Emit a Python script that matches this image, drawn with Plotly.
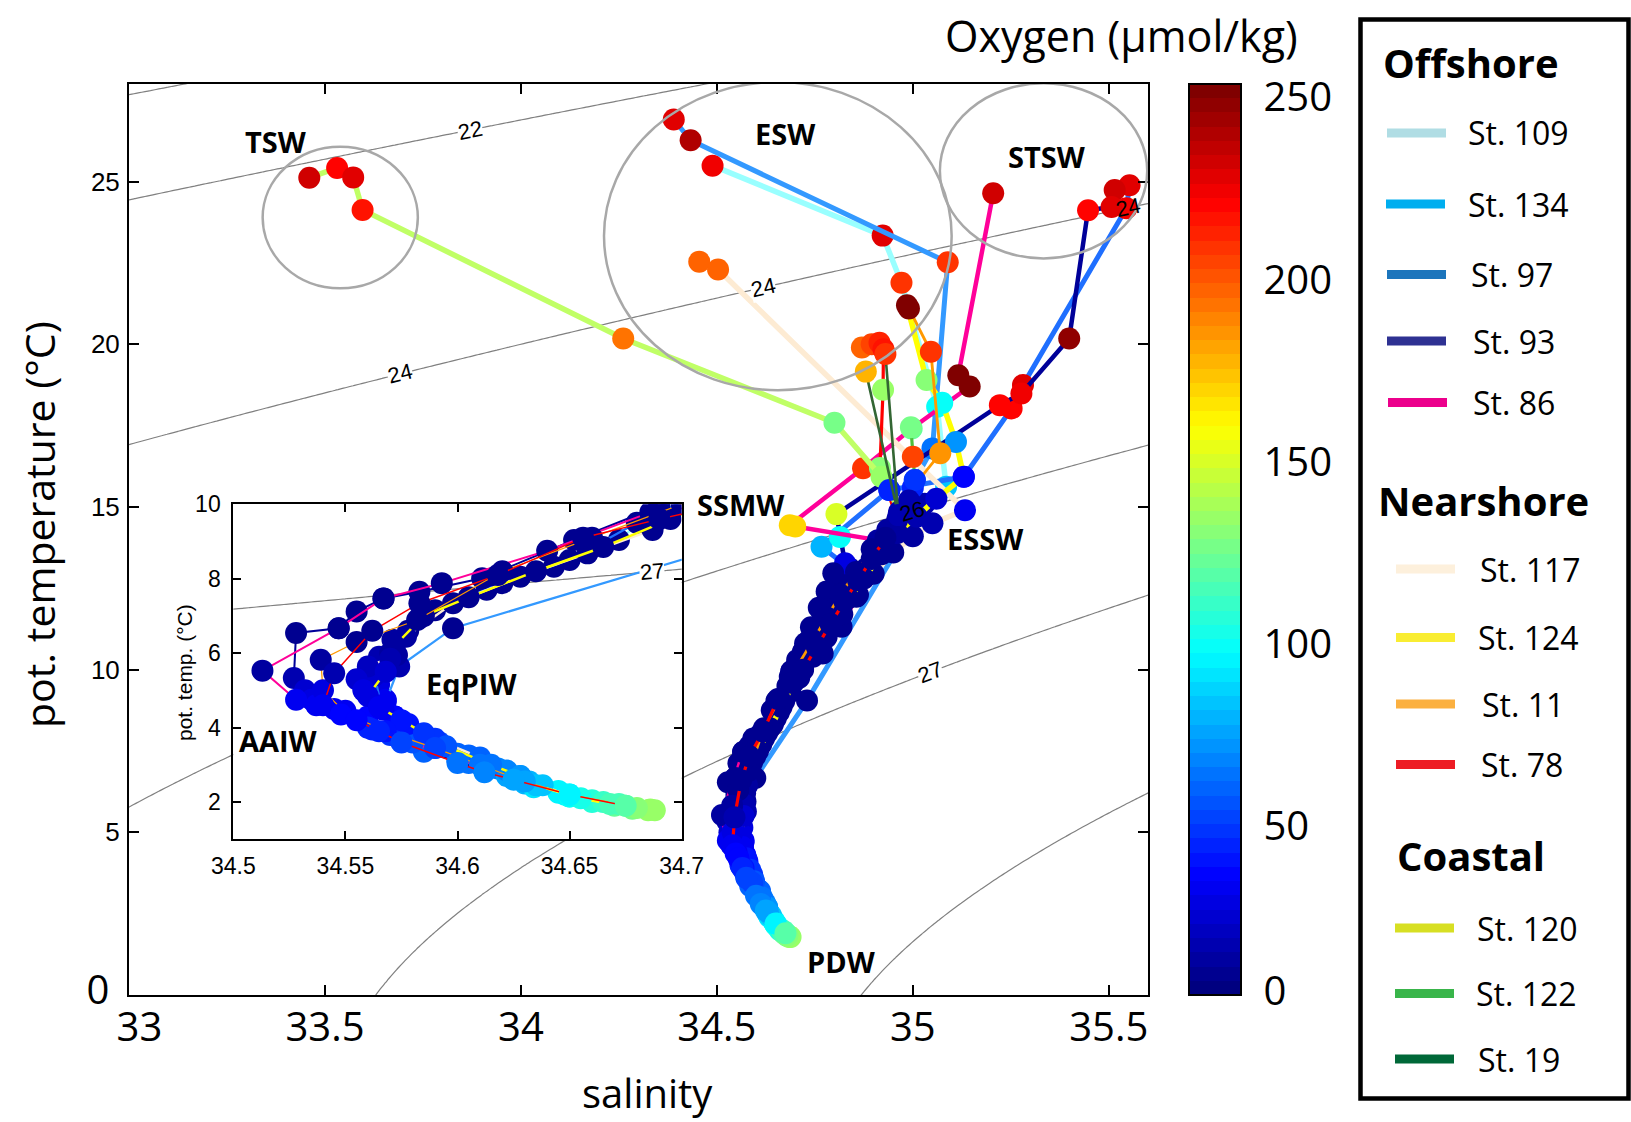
import math
import numpy as np
import plotly.graph_objects as go

# ------------------------------------------------------------------ data
STATIONS = ["St. 109", "St. 134", "St. 97", "St. 93", "St. 86",
            "St. 117", "St. 124", "St. 11", "St. 78",
            "St. 120", "St. 122", "St. 19"]
GROUPS = ["Offshore", "Nearshore", "Coastal"]

sal_109 = [34.489, 34.923, 34.971, 35.062, 35.085, 35.02, 34.985, 34.95, 34.905, 34.865, 34.83, 34.79, 34.755, 34.72,
           34.69, 34.672, 34.643, 34.613, 34.583, 34.571, 34.565, 34.562, 34.565, 34.568, 34.572, 34.578, 34.592,
           34.605, 34.618, 34.632, 34.645, 34.66, 34.685]
temp_109 = [25.49, 23.34, 21.89, 18.08, 15.62, 14.95, 14.45, 14.0, 13.45, 12.9, 12.4, 11.8, 11.2, 10.55,
            9.95, 9.04, 8.32, 7.70, 6.94, 6.36, 5.9, 5.55, 5.15, 4.75, 4.3, 3.95, 3.6,
            3.25, 2.9, 2.55, 2.25, 2.0, 1.78]
oxy_109 = [220, 225, 205, 95, 80, 20, 12, 8, 6, 5, 4, 4, 4, 5,
           5, 5, 5, 6, 7, 9, 13, 18, 24, 28, 34, 40, 48,
           57, 66, 78, 92, 105, 130]

sal_134 = [34.390, 34.433, 35.089, 35.05, 35.005, 35.03,
           34.73, 34.598, 34.574, 34.568, 34.572, 34.578, 34.6, 34.628, 34.648, 34.67]
temp_134 = [26.91, 26.27, 22.52, 16.8, 15.83, 15.1,
            9.05, 6.67, 5.64, 4.7, 4.3, 3.95, 3.3, 2.7, 2.2, 1.9]
oxy_134 = [225, 235, 205, 60, 45, 12,
           5, 6, 12, 28, 33, 40, 55, 70, 90, 118]

sal_97 = [35.553, 35.545, 35.281, 35.252, 35.13, 34.94, 34.767, 34.84, 34.82, 34.80, 34.785, 34.77, 34.75, 34.735,
          34.72, 34.705, 34.68, 34.65, 34.62, 34.59, 34.578, 34.57, 34.563, 34.566, 34.56, 34.572, 34.58, 34.59,
          34.605, 34.63, 34.65, 34.678]
temp_97 = [24.89, 24.18, 18.75, 18.03, 15.93, 15.52, 13.78, 13.1, 12.7, 12.3, 11.95, 11.6, 11.2, 10.9,
           10.55, 10.2, 9.5, 8.5, 7.88, 7.15, 6.6, 6.0, 5.4, 4.6, 4.3, 3.85, 3.7, 3.45,
           3.05, 2.5, 2.15, 1.82]
oxy_97 = [225, 222, 225, 215, 35, 40, 75, 10, 6, 5, 4, 4, 4, 4,
          4, 4, 5, 5, 6, 6, 7, 10, 20, 28, 32, 40, 44, 52,
          60, 78, 98, 124]

sal_93 = [35.515, 35.507, 35.447, 35.399, 35.277, 35.222, 34.805, 34.814, 34.827, 34.797, 34.78, 34.76, 34.74, 34.725,
          34.705, 34.69, 34.652, 34.611, 34.583, 34.567, 34.555, 34.547, 34.528, 34.527, 34.532, 34.535, 34.55,
          34.562, 34.575, 34.585, 34.6, 34.612, 34.634, 34.66, 34.686]
temp_93 = [24.74, 24.22, 24.12, 20.18, 18.49, 18.13, 14.78, 14.08, 13.27, 12.96, 12.4, 11.9, 11.3, 10.8,
           10.3, 9.95, 9.04, 8.01, 7.65, 7.47, 7.12, 6.67, 6.54, 5.33, 5.0, 4.75, 4.45,
           3.95, 3.65, 3.35, 3.1, 2.85, 2.4, 2.05, 1.8]
oxy_93 = [228, 226, 215, 245, 220, 218, 145, 95, 25, 6, 5, 4, 4, 4,
          4, 4, 4, 5, 5, 5, 5, 5, 5, 14, 22, 27, 30,
          40, 47, 55, 62, 68, 86, 104, 130]

sal_86 = [35.205, 35.116, 35.145, 34.997, 34.873, 34.686, 34.70, 34.911, 34.88, 34.856, 34.818, 34.77, 34.72,
          34.686, 34.64, 34.593, 34.567, 34.547, 34.513, 34.528, 34.537, 34.545, 34.56, 34.57, 34.58, 34.6,
          34.622, 34.645, 34.665, 34.688]
temp_86 = [24.64, 19.05, 18.7, 17.41, 16.19, 14.44, 14.40, 13.98, 13.1, 12.24, 11.32, 10.5, 10.05,
           9.78, 8.75, 7.88, 7.47, 6.67, 5.53, 4.75, 4.6, 4.5, 4.0, 3.8, 3.6, 3.15,
           2.7, 2.3, 2.0, 1.78]
oxy_86 = [230, 250, 250, 120, 205, 165, 165, 10, 5, 4, 4, 4, 4,
          4, 5, 5, 5, 5, 8, 28, 29, 30, 42, 46, 52, 60,
          72, 90, 108, 132]

sal_117 = [34.455, 34.503, 35.133, 35.05, 35.0, 34.95, 34.90, 34.86, 34.82, 34.78, 34.745,
           34.71, 34.687, 34.658, 34.628, 34.598, 34.577, 34.573, 34.56, 34.555, 34.558, 34.567, 34.578,
           34.59, 34.61, 34.622, 34.638, 34.65, 34.675]
temp_117 = [22.54, 22.3, 14.9, 14.5, 14.1, 13.6, 12.95, 12.3, 11.7, 11.0, 10.4,
            9.75, 9.31, 8.68, 8.05, 7.34, 6.44, 5.95, 5.64, 5.3, 5.0, 4.48, 4.1,
            3.7, 3.2, 2.85, 2.45, 2.15, 1.9]
oxy_117 = [195, 195, 30, 12, 8, 6, 5, 4, 4, 4, 4,
           5, 5, 5, 5, 6, 8, 11, 18, 22, 26, 30, 38,
           44, 57, 66, 80, 95, 120]

sal_124 = [34.985, 35.035, 35.075, 35.11, 35.13, 35.06, 35.01, 34.96, 34.92, 34.875, 34.835, 34.80, 34.76, 34.725,
           34.695, 34.665, 34.635, 34.605, 34.585, 34.572, 34.57, 34.568, 34.56, 34.565, 34.575, 34.585, 34.595,
           34.615, 34.628, 34.635, 34.655, 34.668, 34.68]
temp_124 = [21.2, 18.9, 18.2, 17.0, 15.93, 15.25, 14.7, 14.2, 13.55, 12.8, 12.2, 11.6, 10.9, 10.3,
            9.6, 8.85, 8.2, 7.5, 7.0, 6.2, 5.85, 5.5, 4.85, 4.55, 4.2, 3.85, 3.5,
            3.0, 2.7, 2.45, 2.1, 1.95, 1.84]
oxy_124 = [250, 125, 95, 70, 35, 20, 12, 8, 6, 5, 4, 4, 4, 4,
           5, 5, 5, 5, 7, 10, 14, 20, 27, 30, 36, 44, 52,
           62, 70, 82, 100, 112, 125]

sal_11 = [34.99, 35.046, 35.07, 35.0, 34.975, 34.935, 34.895, 34.855, 34.815, 34.78, 34.745,
          34.70, 34.66, 34.62, 34.582, 34.555, 34.539, 34.54, 34.55, 34.568, 34.59, 34.61, 34.63, 34.65, 34.672]
temp_11 = [21.1, 19.77, 16.65, 15.6, 14.9, 14.3, 13.7, 13.0, 12.3, 11.6, 10.9,
           10.0, 9.1, 8.2, 6.89, 6.3, 5.82, 5.0, 4.4, 3.9, 3.45, 3.0, 2.55, 2.2, 1.95]
oxy_11 = [248, 205, 180, 40, 15, 8, 6, 5, 4, 4, 4,
          4, 5, 5, 6, 7, 9, 25, 30, 38, 50, 60, 72, 90, 112]

sal_78 = [34.87, 34.895, 34.915, 34.925, 34.924, 34.916, 34.96, 34.93, 34.895, 34.86, 34.825, 34.79, 34.755,
          34.72, 34.69, 34.656, 34.618, 34.583, 34.562, 34.545, 34.54, 34.548, 34.555, 34.565, 34.575, 34.6,
          34.612, 34.625, 34.65, 34.675]
temp_78 = [19.9, 20.0, 20.05, 19.85, 18.6, 16.2, 14.6, 14.05, 13.4, 12.75, 12.1, 11.4, 10.7,
           10.0, 9.6, 9.1, 8.1, 7.34, 6.6, 5.46, 4.6, 4.35, 4.2, 3.9, 3.6, 3.05,
           2.8, 2.6, 2.2, 1.9]
oxy_78 = [195, 200, 210, 212, 130, 125, 10, 7, 5, 4, 4, 4, 4,
          4, 5, 5, 5, 5, 7, 14, 28, 32, 35, 42, 48, 60,
          66, 74, 92, 115]

sal_120 = [33.46, 33.531, 33.572, 33.596, 34.261, 34.80, 34.92, 34.94, 34.965]
temp_120 = [25.12, 25.42, 25.13, 24.13, 20.18, 17.59, 15.93, 15.52, 14.85]
oxy_120 = [228, 218, 226, 213, 190, 122, 130, 40, 15]

sal_122 = [34.995, 35.0, 35.005, 34.99]
temp_122 = [17.45, 16.54, 15.83, 15.2]
oxy_122 = [122, 200, 45, 15]

sal_19 = [34.93, 34.963, 34.88]
temp_19 = [19.7, 14.75, 19.16]
oxy_19 = [205, 12, 175]

OXY_TICKS = [0, 50, 100, 150, 200, 250]
OXY_TICKTEXT = ["0", "50", "100", "150", "200", "250"]
SAL_TICKS = [33, 33.5, 34, 34.5, 35, 35.5]
SAL_TICKTEXT = ["&nbsp;&nbsp;33", "33.5", "34", "34.5", "35", "35.5"]
TEMP_TICKS = [0, 5, 10, 15, 20, 25]
INSET_SAL_TICKS = [34.5, 34.55, 34.6, 34.65, 34.7]
INSET_SAL_TICKTEXT = ["34.5", "34.55", "34.6", "34.65", "34.7"]
INSET_TEMP_TICKS = [2, 4, 6, 8, 10]

SIGMA_LEVELS = [21, 22, 24, 26, 27, 28]
SIGMA_LABEL_LEVELS = [22, 24, 24, 24, 26, 27]
SIGMA_LABEL_SAL = [33.87, 33.691, 34.618, 35.549, 34.997, 35.043]
INSET_LABEL_LEVEL = 27
INSET_LABEL_SAL = 34.6868

circle_sal_min = [33.341, 34.212, 35.069]
circle_sal_max = [33.737, 35.099, 35.598]
circle_temp_min = [21.72, 18.59, 22.64]
circle_temp_max = [26.07, 28.06, 28.02]

WATER_MASSES = ["TSW", "ESW", "STSW", "SSMW", "ESSW", "PDW", "EqPIW", "AAIW"]

SAL = [sal_109, sal_134, sal_97, sal_93, sal_86, sal_117, sal_124, sal_11, sal_78, sal_120, sal_122, sal_19]
TEMP = [temp_109, temp_134, temp_97, temp_93, temp_86, temp_117, temp_124, temp_11, temp_78, temp_120, temp_122, temp_19]
OXY = [oxy_109, oxy_134, oxy_97, oxy_93, oxy_86, oxy_117, oxy_124, oxy_11, oxy_78, oxy_120, oxy_122, oxy_19]

# ------------------------------------------------------------------ styles
LINE_COLORS = ["#99FFFF", "#3399FF", "#1F6FFF", "#000099", "#FF0099",
               "#FDEBD3", "#FFFF00", "#FF9900", "#FF0000",
               "#C0FF66", "#4DBF3C", "#336633"]
LINE_WIDTHS = [5.5, 5, 5, 4.5, 4.5, 5.5, 5.5, 2.8, 3.2, 5.5, 3.2, 2.6]
LEGEND_COLORS = ["#B0DDE4", "#00AEEF", "#1C75BC", "#2E3192", "#EC008C",
                 "#FDF0DC", "#F9ED32", "#FBB040", "#ED1C24",
                 "#D7DF23", "#39B54A", "#006838"]
MARKER_SIZE = 22

W, H = 1631, 1122
L, R, TOP, BOT = 129, 1148, 84, 995
SMIN, SMAX, TMIN, TMAX = 33.0, 35.6, 0.0, 28.0
IS0, IS1, IT0, IT1 = 34.5, 34.7, 1.0, 10.0
INSET_PX = (233.3, 681.7, 504.2, 839.3)
CB_X0, CB_X1 = 1189, 1241
CB_LABEL_SHIFT = [1.2, -3.7, -3.7, -3.7, -3.7, -3.7]   # label offsets (oxygen units), as in the figure


def px(x):
    return (x - L) / (R - L)


def py(y):
    return (BOT - y) / (BOT - TOP)


def jet(v):
    r = min(max(1.5 - abs(4 * v - 3), 0), 1)
    g = min(max(1.5 - abs(4 * v - 2), 0), 1)
    b = min(max(1.5 - abs(4 * v - 1), 0), 1)
    return "rgb(%d,%d,%d)" % (round(r * 255), round(g * 255), round(b * 255))


N = 64
JET = []
for i in range(N):
    c = jet(i / (N - 1))
    JET.append([i / N, c])
    JET.append([(i + 1) / N, c])


def sigma0(S, T):
    rw = (999.842594 + 6.793952e-2 * T - 9.095290e-3 * T ** 2 + 1.001685e-4 * T ** 3
          - 1.120083e-6 * T ** 4 + 6.536332e-9 * T ** 5)
    A = 8.24493e-1 - 4.0899e-3 * T + 7.6438e-5 * T ** 2 - 8.2467e-7 * T ** 3 + 5.3875e-9 * T ** 4
    Bc = -5.72466e-3 + 1.0227e-4 * T - 1.6546e-6 * T ** 2
    return rw + A * S + Bc * S ** 1.5 + 4.8314e-4 * S ** 2 - 1000.0


def solve_T(S, level):
    lo, hi = -2.0, 40.0
    for _ in range(60):
        mid = 0.5 * (lo + hi)
        if sigma0(S, mid) > level:
            lo = mid
        else:
            hi = mid
    return 0.5 * (lo + hi)


def label_angle(S, T, pps, ppt):
    e = 1e-4
    dsds = (sigma0(S + e, T) - sigma0(S - e, T)) / (2 * e)
    dsdt = (sigma0(S, T + e) - sigma0(S, T - e)) / (2 * e)
    dtds = -dsds / dsdt
    return math.degrees(math.atan2(-dtds * ppt, pps))


fig = go.Figure()

# ---- isopycnals (main)
gS = np.linspace(32.9, 35.7, 200)
gT = np.linspace(-1.0, 29.0, 220)
Z = sigma0(gS[None, :], gT[:, None])
for lv in SIGMA_LEVELS:
    fig.add_trace(go.Contour(x=gS, y=gT, z=Z, autocontour=False,
                             contours=dict(start=lv, end=lv, size=1, coloring="none"),
                             line=dict(color="#808080", width=1.2), showscale=False,
                             hoverinfo="skip", xaxis="x", yaxis="y"))
# ---- isopycnal in inset
iS = np.linspace(34.48, 34.72, 80)
iT = np.linspace(0.5, 10.5, 80)
iZ = sigma0(iS[None, :], iT[:, None])
fig.add_trace(go.Contour(x=iS, y=iT, z=iZ, autocontour=False,
                         contours=dict(start=INSET_LABEL_LEVEL, end=INSET_LABEL_LEVEL, size=1, coloring="none"),
                         line=dict(color="#808080", width=1.2), showscale=False,
                         hoverinfo="skip", xaxis="x2", yaxis="y2"))

# ---- stations
for k, name in enumerate(STATIONS):
    for ax, lw_scale in (("", 1.0), ("2", 0.45)):
        fig.add_trace(go.Scatter(x=SAL[k], y=TEMP[k], mode="lines", name=name,
                                 line=dict(color=LINE_COLORS[k], width=LINE_WIDTHS[k] * lw_scale),
                                 hoverinfo="skip", showlegend=False,
                                 xaxis="x" + ax, yaxis="y" + ax))
        mk = dict(size=MARKER_SIZE, color=OXY[k], colorscale=JET, cmin=0, cmax=250,
                  line=dict(width=0), showscale=False)
        if k == 0 and ax == "":
            mk["showscale"] = True
            mk["colorbar"] = dict(
                x=px(CB_X0), xanchor="left", xref="paper", xpad=0,
                y=0, yanchor="bottom", len=1, lenmode="fraction", ypad=0,
                thickness=CB_X1 - CB_X0, thicknessmode="pixels",
                outlinewidth=2, outlinecolor="black",
                tickvals=[v + d for v, d in zip(OXY_TICKS, CB_LABEL_SHIFT)], ticktext=OXY_TICKTEXT,
                ticks="outside", ticklen=14, tickcolor="rgba(255,255,255,0)",
                tickfont=dict(family="Open Sans", size=40, color="black"))
        fig.add_trace(go.Scatter(x=SAL[k], y=TEMP[k], mode="markers", name=name,
                                 marker=mk, showlegend=False,
                                 xaxis="x" + ax, yaxis="y" + ax))

# ---- layout
ann = []
shapes = []

pps = (R - L) / (SMAX - SMIN)
ppt = (BOT - TOP) / (TMAX - TMIN)
for lv, s in zip(SIGMA_LABEL_LEVELS, SIGMA_LABEL_SAL):
    t = solve_T(s, lv)
    bg = "rgba(0,0,0,0)" if (lv == 26 or s > 35.5) else "white"
    ann.append(dict(x=s, y=t, xref="x", yref="y", text=str(lv), showarrow=False,
                    xanchor="center", yanchor="middle",
                    textangle=label_angle(s, t, pps, ppt), bgcolor=bg, borderpad=0,
                    font=dict(family="Liberation Sans", size=22, color="black")))
ipps = (INSET_PX[1] - INSET_PX[0]) / (IS1 - IS0)
ippt = (INSET_PX[3] - INSET_PX[2]) / (IT1 - IT0)
t_in = solve_T(INSET_LABEL_SAL, INSET_LABEL_LEVEL)
ann.append(dict(x=INSET_LABEL_SAL, y=t_in, xref="x2", yref="y2", text=str(INSET_LABEL_LEVEL),
                showarrow=False, xanchor="center", yanchor="middle",
                textangle=label_angle(INSET_LABEL_SAL, t_in, ipps, ippt),
                bgcolor="white", borderpad=0,
                font=dict(family="Liberation Sans", size=22, color="black")))

for s0, s1, t0, t1 in zip(circle_sal_min, circle_sal_max, circle_temp_min, circle_temp_max):
    shapes.append(dict(type="circle", xref="x", yref="y", x0=s0, x1=s1, y0=t0, y1=t1,
                       line=dict(color="#A8A8A8", width=2.5), layer="above"))

WM_PX = [(275.7, 141.7), (785.7, 133.3), (1046.7, 156.7), (740.7, 504.3),
         (985.7, 538.3), (841.5, 961), (471.7, 683.3), (278.3, 740)]
for nm, (xp, yp) in zip(WATER_MASSES, WM_PX):
    ann.append(dict(x=px(xp), y=py(yp), xref="paper", yref="paper", text="<b>%s</b>" % nm,
                    showarrow=False, xanchor="center", yanchor="middle",
                    font=dict(family="Open Sans", size=29, color="black")))

# axis titles
ann.append(dict(x=px(647), y=py(1092), xref="paper", yref="paper", text="salinity", showarrow=False,
                xanchor="center", yanchor="middle",
                font=dict(family="Open Sans", size=40, color="black")))
ann.append(dict(x=px(39), y=py(525), xref="paper", yref="paper", text="pot. temperature (°C)",
                showarrow=False, textangle=-90, xanchor="center", yanchor="middle",
                font=dict(family="Open Sans", size=41, color="black")))
ann.append(dict(x=px(1121), y=py(35), xref="paper", yref="paper", text="Oxygen (µmol/kg)",
                showarrow=False, xanchor="center", yanchor="middle",
                font=dict(family="Open Sans", size=43, color="black")))
ann.append(dict(x=px(185), y=py(673), xref="paper", yref="paper", text="pot. temp. (°C)",
                showarrow=False, textangle=-90, xanchor="center", yanchor="middle",
                font=dict(family="Liberation Sans", size=21, color="black")))

# colorbar inside tick marks (both edges)
for v in OXY_TICKS[1:-1]:
    yy = py(BOT - v / 250.0 * (BOT - TOP))
    shapes.append(dict(type="line", xref="paper", yref="paper", x0=px(CB_X0), x1=px(CB_X0 + 8),
                       y0=yy, y1=yy, line=dict(color="black", width=1.5)))
    shapes.append(dict(type="line", xref="paper", yref="paper", x0=px(CB_X1 - 8), x1=px(CB_X1),
                       y0=yy, y1=yy, line=dict(color="black", width=1.5)))

# legend (manual, grouped)
shapes.append(dict(type="rect", xref="paper", yref="paper", x0=px(1360.5), x1=px(1628.5),
                   y0=py(19.5), y1=py(1098.5), line=dict(color="black", width=4.5)))
HEAD_PX = [(1381, 62), (1376, 500), (1395, 855)]
for g, (xp, yp) in zip(GROUPS, HEAD_PX):
    ann.append(dict(x=px(xp), y=py(yp), xref="paper", yref="paper", text="<b>%s</b>" % g,
                    showarrow=False, xanchor="left", yanchor="middle",
                    font=dict(family="Open Sans", size=40, color="black")))
LEG_Y = [133, 204, 274.5, 341, 402.5, 569, 637.5, 704, 764.5, 928, 993.5, 1059]
LEG_X0 = [1387, 1386, 1387, 1387, 1388, 1396, 1396, 1396, 1396, 1395, 1395, 1395]
LEG_TX = [1466, 1466, 1469, 1471, 1471, 1478, 1476, 1480, 1479, 1475, 1474, 1476]
for k, name in enumerate(STATIONS):
    yy = py(LEG_Y[k])
    shapes.append(dict(type="line", xref="paper", yref="paper", x0=px(LEG_X0[k]), x1=px(LEG_X0[k] + 59),
                       y0=yy, y1=yy, line=dict(color=LEGEND_COLORS[k], width=9)))
    ann.append(dict(x=px(LEG_TX[k]), y=yy, xref="paper", yref="paper", text=name, showarrow=False,
                    xanchor="left", yanchor="middle", font=dict(family="Open Sans", size=32, color="black")))

temp_ticktext = ["<span style='font-size:40px;font-family:Open Sans'>0&nbsp;</span>"] + [str(v) for v in TEMP_TICKS[1:]]

xstand = -4
try:
    go.layout.XAxis(ticklabelstandoff=xstand)
except Exception:
    xstand = 0

axis_common = dict(showgrid=False, zeroline=False, showline=True, linecolor="black",
                   mirror="ticks", ticks="inside", tickcolor="black")

fig.update_layout(
    width=W, height=H, showlegend=False,
    paper_bgcolor="white", plot_bgcolor="white",
    margin=dict(l=L, r=W - R, t=TOP, b=H - BOT, pad=0),
    xaxis=dict(range=[SMIN, SMAX], domain=[0, 1], anchor="y", tickvals=SAL_TICKS, ticktext=SAL_TICKTEXT,
               linewidth=2, ticklen=10, tickwidth=1.5, ticklabelstandoff=xstand,
               tickfont=dict(family="Open Sans", size=40, color="black"), **axis_common),
    yaxis=dict(range=[TMIN, TMAX], domain=[0, 1], anchor="x", tickvals=TEMP_TICKS, ticktext=temp_ticktext,
               linewidth=2, ticklen=10, tickwidth=1.5, ticklabelstandoff=2,
               tickfont=dict(family="Liberation Sans", size=26, color="black"), **axis_common),
    xaxis2=dict(range=[IS0, IS1], domain=[px(INSET_PX[0]), px(INSET_PX[1])], anchor="y2",
                tickvals=INSET_SAL_TICKS, ticktext=INSET_SAL_TICKTEXT,
                linewidth=2, ticklen=8, tickwidth=1.5, ticklabelstandoff=5,
                tickfont=dict(family="Liberation Sans", size=23, color="black"), **axis_common),
    yaxis2=dict(range=[IT0, IT1], domain=[py(INSET_PX[3]), py(INSET_PX[2])], anchor="x2",
                tickvals=INSET_TEMP_TICKS,
                linewidth=2, ticklen=8, tickwidth=1.5, ticklabelstandoff=6,
                tickfont=dict(family="Liberation Sans", size=23, color="black"), **axis_common),
    annotations=ann, shapes=shapes,
)

fig.write_html("out.html")
